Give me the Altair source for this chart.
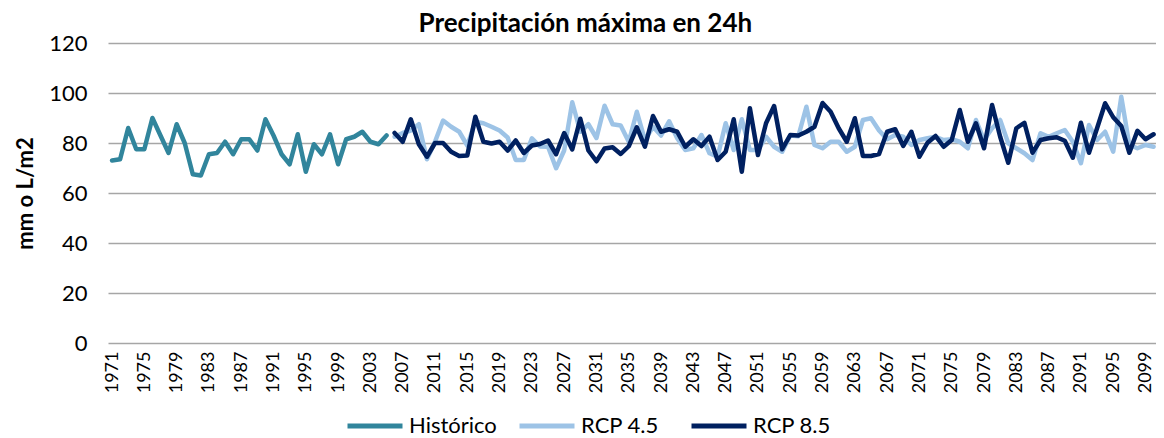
import altair as alt
import pandas as pd

# ---- data ----
series_names = ["Histórico", "RCP 4.5", "RCP 8.5"]
series_colors = ["#31859C", "#9DC3E6", "#002060"]

hist_years = list(range(1971, 2006))
hist_values = [
    73, 73.5, 86, 77.5, 77.5, 90, 83, 76, 87.5, 80,
    67.5, 67, 75.5, 76, 80.5, 75.5, 81.5, 81.5, 77, 89.5,
    83, 75.5, 71.5, 83.5, 68.5, 79.5, 75.5, 83.5, 71.5, 81.5,
    82.5, 84.5, 80.5, 79.5, 83,
]

proj_years = list(range(2006, 2101))
rcp45_values = [
    82.5, 84, 85, 87.5, 73.5, 80.5, 89, 86.5, 84.5, 79,
    88.5, 87.9, 86.5, 85, 82.2, 73.2, 73.2, 81.9, 78.6, 78.5,
    69.9, 77, 96.3, 84.5, 87.5, 82, 94.9, 87.5, 87, 80.5,
    92.5, 81.2, 86.5, 83, 88.7, 81.9, 77.2, 77.9, 83.2, 75.9,
    74.5, 87.9, 77.2, 89.5, 77.2, 77.2, 82.5, 78.5, 76.5, 83,
    82.7, 94.5, 79.2, 77.9, 80.5, 80.5, 76.5, 78.5, 89.2, 89.9,
    85, 81.5, 83.2, 82.5, 79.2, 81.2, 81.9, 82.5, 81.2, 81.5,
    80.5, 77.9, 89.2, 81.2, 85.9, 89.2, 79.9, 77.9, 75.9, 73.2,
    83.9, 82.5, 83.9, 85.2, 80.5, 71.9, 87.2, 81.2, 84.5, 76.5,
    98.5, 79.2, 77.9, 79.2, 78.5,
]
rcp85_values = [
    84, 80.5, 89.5, 79.5, 74.5, 80, 80, 76.5, 74.8, 75,
    90.5, 80.5, 79.8, 80.5, 77, 81, 76, 79, 79.6, 81,
    75.5, 84, 77.4, 89.7, 77, 72.7, 77.8, 78.3, 75.6, 78.7,
    86.3, 78.5, 90.8, 84.5, 85.5, 84.5, 78.5, 81.5, 78.8, 82.5,
    73.2, 76.5, 89.5, 68.5, 93.9, 75.2, 87.9, 94.8, 77.5, 83.2,
    83, 84.5, 86.5, 96, 92.5, 85.9, 80.5, 89.9, 74.8, 74.8,
    75.6, 84.5, 85.5, 78.8, 84.5, 74.5, 80.1, 82.8, 78.5, 81.2,
    93.2, 80.5, 87.9, 77.9, 95.2, 82.5, 72.1, 85.9, 88.1, 76.1,
    81.2, 81.9, 82.3, 80.9, 74.1, 88.1, 76.1, 85.9, 95.9, 90.3,
    86.8, 76.1, 84.9, 81.5, 83.5,
]

tick_years = list(range(1971, 2100, 4))
y_ticks = [0, 20, 40, 60, 80, 100, 120]

rows = []
for yr, v in zip(hist_years, hist_values):
    rows.append({"año": yr, "valor": v, "serie": series_names[0]})
for yr, v in zip(proj_years, rcp45_values):
    rows.append({"año": yr, "valor": v, "serie": series_names[1]})
for yr, v in zip(proj_years, rcp85_values):
    rows.append({"año": yr, "valor": v, "serie": series_names[2]})
df = pd.DataFrame(rows)

FONT = "Lato"

chart = (
    alt.Chart(df)
    .mark_line(strokeWidth=4.5, strokeJoin="round", strokeCap="round", clip=True)
    .encode(
        x=alt.X(
            "año:Q",
            scale=alt.Scale(domain=[1970.5, 2100.3], nice=False, zero=False),
            axis=alt.Axis(
                values=tick_years,
                format="d",
                labelAngle=-90,
                grid=False,
                ticks=False,
                domain=False,
                title=None,
                labelFontSize=18,
                labelFont=FONT,
                labelColor="#000000",
                labelPadding=8,
                labelOverlap=False,
            ),
        ),
        y=alt.Y(
            "valor:Q",
            scale=alt.Scale(domain=[0, 120], nice=False),
            axis=alt.Axis(
                values=y_ticks,
                grid=True,
                gridColor="#A6A6A6",
                gridWidth=1.3,
                ticks=False,
                domain=False,
                title="mm o L/m2",
                titleFont=FONT,
                titleFontSize=22,
                titleFontWeight="bold",
                titleColor="#000000",
                titlePadding=11,
                labelFontSize=22,
                labelFont=FONT,
                labelColor="#000000",
                labelPadding=21,
            ),
        ),
        color=alt.Color(
            "serie:N",
            scale=alt.Scale(domain=series_names, range=series_colors),
            legend=alt.Legend(
                title=None,
                orient="none",
                legendX=237,
                legendY=353,
                direction="horizontal",
                columns=3,
                gridAlign="all",
                columnPadding=12,
                symbolType="stroke",
                symbolSize=3025,
                symbolStrokeWidth=5,
                labelFont=FONT,
                labelFontSize=22,
                labelColor="#000000",
                labelOffset=4,
            ),
        ),
    )
    .properties(
        width=1048,
        height=300,
        title=alt.TitleParams(
            "Precipitación máxima en 24h",
            font=FONT,
            fontSize=26,
            fontWeight="bold",
            color="#000000",
            anchor="middle",
            frame="bounds",
            offset=-5,
        ),
        autosize=alt.AutoSizeParams(type="none"),
        padding={"left": 100, "top": 35, "right": 0, "bottom": 95},
    )
    .configure_view(stroke=None)
)

chart.save("out.html", embed_options={"renderer": "svg", "actions": False})
